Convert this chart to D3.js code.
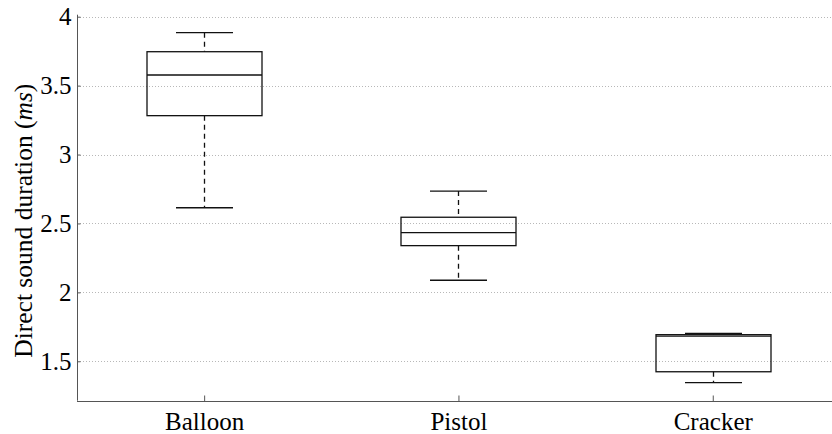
<!DOCTYPE html>
<html>
<head>
<meta charset="utf-8">
<script src="https://cdn.jsdelivr.net/npm/d3@7/dist/d3.min.js"></script>
<style>
  html, body { margin: 0; padding: 0; background: #fff; }
  svg { display: block; }
  svg text { font-family: "Liberation Serif", "Times New Roman", Times, "DejaVu Serif", "Noto Serif", serif; fill: #000; }
</style>
</head>
<body>
<svg id="chart" width="832" height="434"></svg>
<script>
// Direct sound duration per excitation source (ms)
const categories = ["Balloon", "Pistol", "Cracker"];
const whiskerLow  = [2.614, 2.088, 1.345];
const quartileLow = [3.282, 2.339, 1.424];
const medians     = [3.577, 2.433, 1.682];
const quartileHigh= [3.746, 2.545, 1.693];
const whiskerHigh = [3.884, 2.735, 1.703];
const yTicks = [1.5, 2, 2.5, 3, 3.5, 4];
const yDomain = [1.214, 4];

const svg = d3.select("#chart");
const W = 832, H = 434;
const plotLeft = 77, plotTop = 16.7, plotBottom = 400.7;
const slot = 254.3;

const x = d3.scaleLinear().domain([0.5, 3.5]).range([plotLeft, plotLeft + 3 * slot]);
const y = d3.scaleLinear().domain(yDomain).range([plotBottom, plotTop]);

const boxHalf = 57.5, capHalf = 28.5;

// dotted grid
svg.append("g").selectAll("line").data(yTicks).join("line")
  .attr("x1", plotLeft).attr("x2", W)
  .attr("y1", d => Math.round(y(d)) + 0.5).attr("y2", d => Math.round(y(d)) + 0.5)
  .attr("stroke", "#b8b8b8").attr("stroke-width", 1)
  .attr("stroke-dasharray", "1,2");

// y axis
const yAxis = d3.axisLeft(y).tickValues(yTicks).tickSizeInner(-3).tickSizeOuter(0)
  .tickPadding(6).tickFormat(d3.format("~g"));
const gy = svg.append("g").attr("transform", `translate(${plotLeft + 0.5},0)`).call(yAxis);
gy.attr("font-family", null).attr("font-size", null);
gy.select(".domain").attr("stroke", "#555").attr("d", `M0,${plotTop - 2}V${plotBottom}`);
gy.selectAll(".tick line").attr("stroke", "#555");
gy.selectAll(".tick text").attr("font-size", 25).attr("fill", "#000");

// x axis
const xAxis = d3.axisBottom(x).tickValues([1, 2, 3]).tickSizeInner(-6).tickSizeOuter(0)
  .tickPadding(11).tickFormat(d => categories[d - 1]);
const gx = svg.append("g").attr("transform", `translate(0,${Math.round(plotBottom) + 0.5})`).call(xAxis);
gx.attr("font-family", null).attr("font-size", null);
gx.select(".domain").attr("stroke", "#555").attr("d", `M${plotLeft},0H${W}`);
gx.selectAll(".tick line").attr("stroke", "#555");
gx.selectAll(".tick text").attr("font-size", 25).attr("fill", "#000");

// boxes
const boxes = svg.append("g").selectAll("g").data(categories).join("g");
boxes.each(function(c, i) {
  const g = d3.select(this);
  const cx = Math.round(x(i + 1)) + 0.5;
  const line = (x1, y1, x2, y2) => g.append("line")
    .attr("x1", x1).attr("y1", y1).attr("x2", x2).attr("y2", y2)
    .attr("stroke", "#111").attr("stroke-width", 1.3);
  // whiskers (dashed)
  line(cx, y(whiskerHigh[i]), cx, y(quartileHigh[i])).attr("stroke-dasharray", "5,4");
  line(cx, y(quartileLow[i]), cx, y(whiskerLow[i])).attr("stroke-dasharray", "5,4");
  // caps
  line(cx - capHalf, y(whiskerHigh[i]), cx + capHalf, y(whiskerHigh[i]));
  line(cx - capHalf, y(whiskerLow[i]), cx + capHalf, y(whiskerLow[i]));
  // box
  g.append("rect")
    .attr("x", cx - boxHalf).attr("y", y(quartileHigh[i]))
    .attr("width", 2 * boxHalf).attr("height", y(quartileLow[i]) - y(quartileHigh[i]))
    .attr("fill", "none").attr("stroke", "#111").attr("stroke-width", 1.3);
  // median
  line(cx - boxHalf, y(medians[i]), cx + boxHalf, y(medians[i]));
});

// y label
const lbl = svg.append("text")
  .attr("transform", `translate(32,${(plotTop + plotBottom) / 2 + 12}) rotate(-90)`)
  .attr("text-anchor", "middle").attr("font-size", 25.5);
lbl.append("tspan").text("Direct sound duration (");
lbl.append("tspan").attr("font-style", "italic").text("ms");
lbl.append("tspan").text(")");
</script>
</body>
</html>
